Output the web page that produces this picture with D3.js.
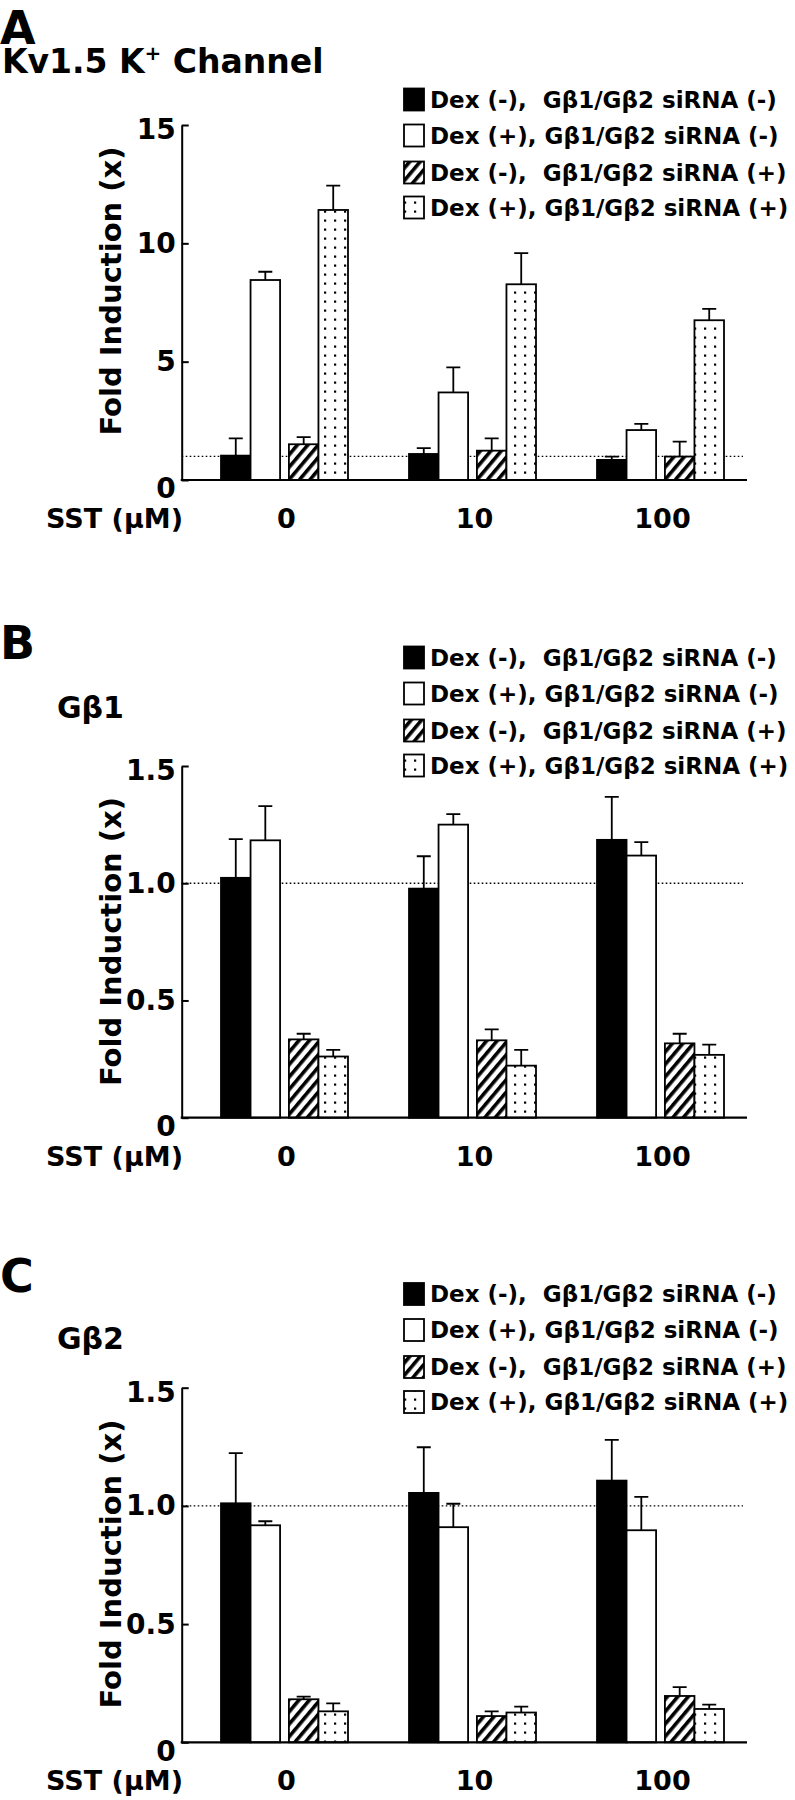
<!DOCTYPE html>
<html>
<head>
<meta charset="utf-8">
<script src="https://cdn.jsdelivr.net/npm/d3@7"></script>
<style>
  body { margin: 0; background: #fff; }
  text { font-family: "DejaVu Sans", sans-serif; font-weight: bold; fill: #000; }
</style>
</head>
<body>
<div id="chart"></div>
<script>
// ---- data ----
const categories = ["0", "10", "100"];
const seriesNames = [
    "Dex (-),  G\u03b21/G\u03b22 siRNA (-)",
    "Dex (+), G\u03b21/G\u03b22 siRNA (-)",
    "Dex (-),  G\u03b21/G\u03b22 siRNA (+)",
    "Dex (+), G\u03b21/G\u03b22 siRNA (+)"
];

// rows = series, columns = SST dose
const kvMean = [[1.03, 1.10, 0.85], [8.45, 3.70, 2.11], [1.51, 1.24, 0.99], [11.41, 8.27, 6.75]];
const kvErr  = [[0.73, 0.25, 0.14], [0.35, 1.06, 0.26], [0.30, 0.52, 0.63], [1.03, 1.32, 0.48]];

const gb1Mean = [[1.023, 0.977, 1.185], [1.183, 1.25, 1.118], [0.334, 0.33, 0.317], [0.261, 0.222, 0.268]];
const gb1Err  = [[0.165, 0.138, 0.183], [0.146, 0.045, 0.057], [0.024, 0.047, 0.041], [0.028, 0.067, 0.044]];

const gb2Mean = [[1.011, 1.055, 1.107], [0.918, 0.91, 0.897], [0.182, 0.111, 0.196], [0.131, 0.126, 0.141]];
const gb2Err  = [[0.212, 0.193, 0.172], [0.017, 0.099, 0.141], [0.011, 0.020, 0.037], [0.034, 0.025, 0.018]];

const kvTicks = [0, 5, 10, 15];
const kvTickLabels = ["0", "5", "10", "15"];
const gbTicks = [0, 0.5, 1.0, 1.5];
const gbTickLabels = ["0", "0.5", "1.0", "1.5"];

const fills = ["#000", "#fff", "url(#hatch)", "url(#dots)"];

const svg = d3.select("#chart").append("svg")
    .attr("width", 795)
    .attr("height", 1800)

// patterns
const defs = svg.append("defs")
const hatch = defs.append("pattern")
    .attr("id", "hatch")
    .attr("patternUnits", "userSpaceOnUse")
    .attr("width", 8).attr("height", 8)
    .attr("patternTransform", "rotate(40)")
hatch.append("rect").attr("width", 8).attr("height", 8).attr("fill", "#fff")
hatch.append("rect").attr("width", 3.6).attr("height", 8).attr("fill", "#000")

const dots = defs.append("pattern")
    .attr("id", "dots")
    .attr("patternUnits", "userSpaceOnUse")
    .attr("width", 10).attr("height", 9)
dots.append("rect").attr("width", 10).attr("height", 9).attr("fill", "#fff")
dots.append("rect").attr("x", 4).attr("y", 3.5).attr("width", 2.2).attr("height", 2.2).attr("fill", "#000")

class BarPanel {
    constructor(cfg) {
        this.cfg = cfg
        this.initVis()
    }
    initVis() {
        let vis = this
        let cfg = vis.cfg
        vis.axisX = 181.7
        vis.g = svg.append("g")

        vis.y = d3.scaleLinear().domain([0, cfg.yMax]).range([cfg.bottom, cfg.top])
        vis.x0 = d3.scaleBand().domain(categories).range([221, 724]).paddingInner(0.3245)
        vis.xPair = d3.scaleBand().domain([0, 1]).range([0, vis.x0.bandwidth()]).paddingInner(0.13)
        vis.xBar = d3.scaleBand().domain([0, 1]).range([0, vis.xPair.bandwidth()])

        // panel letter + title
        vis.g.append("text").attr("x", 0).attr("y", cfg.letterY)
            .attr("font-size", 46).text(cfg.letter)
        let title = vis.g.append("text").attr("x", cfg.titleX).attr("y", cfg.titleY)
            .attr("font-size", cfg.titleSize)
        cfg.title.forEach(part => {
            title.append("tspan").attr("font-size", part.size || null)
                .attr("dy", part.dy || 0).text(part.t)
        })

        // legend
        let rowOff = [0, 36, 73, 108]
        seriesNames.forEach((name, i) => {
            let cy = cfg.legendY + rowOff[i]
            vis.g.append("rect")
                .attr("x", 404).attr("y", cy - 11)
                .attr("width", 20).attr("height", 22)
                .attr("fill", fills[i]).attr("stroke", "#000").attr("stroke-width", 1.8)
            vis.g.append("text")
                .attr("x", 430).attr("y", cy + 8)
                .attr("font-size", 23)
                .style("white-space", "pre")
                .text(name)
        })

        vis.updateVis()
    }
    updateVis() {
        let vis = this
        let cfg = vis.cfg

        // y axis
        let yAxis = vis.g.append("g")
            .attr("transform", `translate(${vis.axisX},0)`)
            .call(d3.axisLeft(vis.y)
                .tickValues(cfg.ticks)
                .tickFormat((d, i) => cfg.tickLabels[i])
                .tickSize(-7)
                .tickSizeOuter(0)
                .tickPadding(6))
        yAxis.attr("font-size", 28).attr("font-family", null)
        yAxis.selectAll("path, line").attr("stroke-width", 2)
        yAxis.selectAll("text")
            .attr("y", d => d === 0 ? 9 : (d === cfg.yMax ? 5 : 0))

        // reference line at 1
        vis.g.append("line")
            .attr("x1", vis.axisX).attr("x2", 743)
            .attr("y1", vis.y(1)).attr("y2", vis.y(1))
            .attr("stroke", "#000").attr("stroke-width", 1.3)
            .attr("stroke-dasharray", "1.6,2.4")

        // bars
        let flat = []
        cfg.mean.forEach((row, s) => row.forEach((v, c) => {
            flat.push({s: s, c: categories[c], v: v, e: cfg.err[s][c]})
        }))
        let bx = d => vis.x0(d.c) + vis.xPair(Math.floor(d.s / 2)) + vis.xBar(d.s % 2)
        let bw = vis.xBar.bandwidth()

        vis.g.selectAll(".err").data(flat).enter().append("path")
            .attr("class", "err")
            .attr("d", d => {
                let cx = bx(d) + bw / 2
                let top = vis.y(d.v + d.e)
                return `M${cx},${vis.y(d.v)}V${top}M${cx - 7},${top}H${cx + 7}`
            })
            .attr("fill", "none").attr("stroke", "#000").attr("stroke-width", 1.8)

        vis.g.selectAll(".bar").data(flat).enter().append("rect")
            .attr("class", "bar")
            .attr("x", d => bx(d))
            .attr("y", d => vis.y(d.v))
            .attr("width", bw)
            .attr("height", d => vis.y(0) - vis.y(d.v))
            .attr("fill", d => fills[d.s])
            .attr("stroke", "#000").attr("stroke-width", 1.8)

        // x baseline
        vis.g.append("line")
            .attr("x1", vis.axisX - 1).attr("x2", 747)
            .attr("y1", vis.y(0)).attr("y2", vis.y(0))
            .attr("stroke", "#000").attr("stroke-width", 2.2)

        // category labels
        vis.g.selectAll(".cat").data(categories).enter().append("text")
            .attr("class", "cat")
            .attr("x", d => vis.x0(d) + vis.x0.bandwidth() / 2 + 2)
            .attr("y", cfg.bottom + 48)
            .attr("text-anchor", "middle")
            .attr("font-size", 27)
            .text(d => d)
        vis.g.append("text")
            .attr("x", 183).attr("y", cfg.bottom + 48)
            .attr("text-anchor", "end").attr("font-size", 27)
            .text("SST (\u03bcM)")

        // y title
        vis.g.append("text")
            .attr("transform", `translate(121,${cfg.yTitleY}) rotate(-90)`)
            .attr("text-anchor", "middle")
            .attr("font-size", 29)
            .text("Fold Induction (x)")
    }
}

new BarPanel({
    letter: "A", letterY: 44,
    title: [{t: "Kv1.5 K"}, {t: "+", size: 20, dy: -13}, {t: " Channel", dy: 13}],
    titleX: 2, titleY: 73, titleSize: 33,
    legendY: 99.5,
    yMax: 15, top: 125, bottom: 480, yTitleY: 291,
    ticks: kvTicks, tickLabels: kvTickLabels,
    mean: kvMean, err: kvErr
})
new BarPanel({
    letter: "B", letterY: 659,
    title: [{t: "G\u03b21"}],
    titleX: 57, titleY: 718, titleSize: 30,
    legendY: 657.5,
    yMax: 1.5, top: 766, bottom: 1117.7, yTitleY: 941.5,
    ticks: gbTicks, tickLabels: gbTickLabels,
    mean: gb1Mean, err: gb1Err
})
new BarPanel({
    letter: "C", letterY: 1292,
    title: [{t: "G\u03b22"}],
    titleX: 57, titleY: 1349, titleSize: 30,
    legendY: 1294,
    yMax: 1.5, top: 1387.7, bottom: 1742.3, yTitleY: 1564,
    ticks: gbTicks, tickLabels: gbTickLabels,
    mean: gb2Mean, err: gb2Err
})
</script>
</body>
</html>
